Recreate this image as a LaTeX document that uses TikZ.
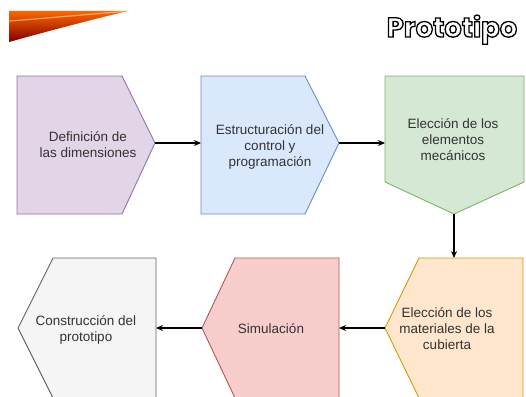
\documentclass[tikz,border=0pt]{standalone}
\usepackage{fontspec}
\setmainfont{Liberation Sans}
\newfontfamily\titlefont{Poppins}
\usetikzlibrary{arrows.meta,calc}
\definecolor{pfill}{HTML}{E1D5E7}\definecolor{pline}{HTML}{9673A6}
\definecolor{bfill}{HTML}{DAE8FC}\definecolor{bline}{HTML}{6C8EBF}
\definecolor{gfill}{HTML}{D5E8D4}\definecolor{gline}{HTML}{82B366}
\definecolor{ofill}{HTML}{FFE6CC}\definecolor{oline}{HTML}{D79B00}
\definecolor{rfill}{HTML}{F8CECC}\definecolor{rline}{HTML}{B85450}
\definecolor{yfill}{HTML}{F5F5F5}\definecolor{yline}{HTML}{666666}
\definecolor{txt}{HTML}{333333}
\newcommand\outlinetext[1]{\special{pdf:literal direct 2 Tr 1.3 w 0 0 0 RG 1 1 1 rg}#1\special{pdf:literal direct 0 Tr}}
\tikzset{
  shapebox/.style={line width=0.9pt, line join=miter},
  label/.style={align=center, text=txt, font=\fontsize{13.5}{16}\selectfont, inner sep=0pt},
  arr/.style={line width=1.2pt, -{Stealth[length=7pt,width=6pt]}},
  ttl/.style={font=\titlefont\bfseries\fontsize{27.5}{28}\selectfont, inner sep=0pt, anchor=base}
}
\begin{document}
\begin{tikzpicture}[x=1pt,y=-1pt]
\useasboundingbox (0,0) rectangle (526,396);
\clip (0,0) rectangle (526,396);
% swoosh
\shade[top color=orange!80!red, bottom color=red!50!black]
  (9,11) -- (128,11) .. controls (90,20) and (45,32) .. (9,42) -- cycle;
\draw[white!70!orange, line width=1.2pt, opacity=0.6] (9,21) .. controls (50,18) and (90,14) .. (125,11.5);
% title
\node[ttl] (title) at (452,37) {\outlinetext{Prototipo}};
% shapes
\draw[shapebox, fill=pfill, draw=pline] (17,76) -- (122,76) -- (155,143) -- (122,214) -- (17,214) -- cycle;
\draw[shapebox, fill=bfill, draw=bline] (201,76) -- (305,76) -- (339,143) -- (305,214) -- (201,214) -- cycle;
\draw[shapebox, fill=gfill, draw=gline] (385,76) -- (524,76) -- (524,182) -- (454,214) -- (385,182) -- cycle;
\draw[shapebox, fill=ofill, draw=oline] (523,258) -- (419,258) -- (385,328) -- (419,398) -- (523,398) -- cycle;
\draw[shapebox, fill=rfill, draw=rline] (339,258) -- (235,258) -- (202,328) -- (235,398) -- (339,398) -- cycle;
\draw[shapebox, fill=yfill, draw=yline] (156,258) -- (53,258) -- (18,328) -- (53,398) -- (156,398) -- cycle;
% labels
\node[label] (n1) at (88,145) {Definición de\\las dimensiones};
\node[label] (n2) at (270,147) {Estructuración del\\control y\\programación};
\node[label] (n3) at (453,140) {Elección de los\\elementos\\mecánicos};
\node[label] (n4) at (447,329) {Elección de los\\materiales de la\\cubierta};
\node[label] (n5) at (271,329) {Simulación};
\node[label] (n6) at (86,330) {Construcción del\\prototipo};
% connector ends
\coordinate (o1) at (155,143); \coordinate (i2) at (201,143);
\coordinate (o2) at (339,143); \coordinate (i3) at (385,143);
\coordinate (o3) at (454,214); \coordinate (i4) at (454,258);
\coordinate (o4) at (385,328); \coordinate (i5) at (339,328);
\coordinate (o5) at (202,328); \coordinate (i6) at (156,328);
\draw[arr] (o1) -- (i2);
\draw[arr] (o2) -- (i3);
\draw[arr] (o3) -- (i4);
\draw[arr] (o4) -- (i5);
\draw[arr] (o5) -- (i6);
\end{tikzpicture}
\end{document}
